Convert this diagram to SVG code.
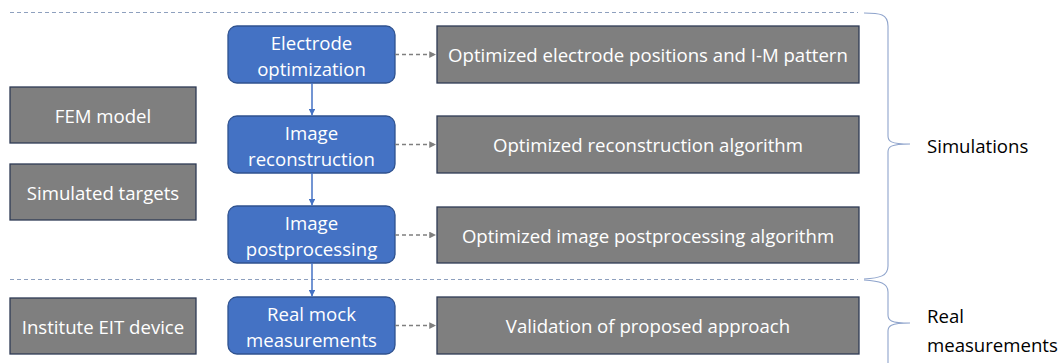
<svg xmlns="http://www.w3.org/2000/svg" width="1061" height="363" viewBox="0 0 1061 363">
<style>
.blue{fill:#4472C4;stroke:#2F528F;stroke-width:1.3}
.gray{fill:#7F7F7F;stroke:#2F3B55;stroke-width:1.3}
.t{font-family:"Open Sans","Liberation Sans",sans-serif;font-size:18.6px;fill:#FFFFFF;text-anchor:middle;dominant-baseline:central}
.lbl{font-family:"Open Sans","Liberation Sans",sans-serif;font-size:18.6px;fill:#000000;dominant-baseline:central}
.sep{stroke:#8EA0BE;stroke-width:1;stroke-dasharray:4 3;fill:none}
.brace{stroke:#8FA4CC;stroke-width:1.1;fill:none}
.flow{stroke:#4472C4;stroke-width:1.5;fill:none;marker-end:url(#ab)}
.dash{stroke:#7F7F7F;stroke-width:1.5;stroke-dasharray:4 3;fill:none;marker-end:url(#ag)}
</style>
<defs>
<marker id="ab" viewBox="0 0 10 10" refX="10" refY="5" markerWidth="4.5" markerHeight="4.5" orient="auto" markerUnits="strokeWidth"><path d="M0,0 L10,5 L0,10 z" fill="#4472C4"/></marker>
<marker id="ag" viewBox="0 0 10 10" refX="10" refY="5" markerWidth="4.5" markerHeight="4.5" orient="auto" markerUnits="strokeWidth"><path d="M0,0 L10,5 L0,10 z" fill="#7F7F7F"/></marker>
</defs>
<g id="separators">
<line class="sep" x1="10" y1="12.5" x2="858" y2="12.5"/>
<line class="sep" x1="10" y1="279.5" x2="858" y2="279.5"/>
</g>
<g id="brace-simulations">
<path class="brace" d="M864,13 C880,13 888,14 888,26 L888,136 C888,141 890,144 910,144 C890,144 888,147 888,152 L888,266 C888,276 880,278 864,279"/>
<text class="lbl" x="927" y="145">Simulations</text>
</g>
<g id="brace-real">
<path class="brace" d="M864,280 C880,281 888,283 888,292 L888,315 C888,320 890,323 910,323 C890,323 888,326 888,331 L888,363"/>
<text class="lbl" x="927" y="315">Real</text>
<text class="lbl" x="927" y="344">measurements</text>
</g>
<g id="fem-model"><rect class="gray" x="10" y="87" width="186" height="56"/><text class="t" x="103" y="115">FEM model</text></g>
<g id="simulated-targets"><rect class="gray" x="10" y="164" width="186" height="56"/><text class="t" x="103" y="192">Simulated targets</text></g>
<g id="institute-eit"><rect class="gray" x="10" y="298" width="186" height="56"/><text class="t" x="103" y="326">Institute EIT device</text></g>
<g id="electrode-opt"><rect class="blue" x="228" y="26" width="167" height="57" rx="9"/><text class="t" x="311.5" y="42">Electrode</text><text class="t" x="311.5" y="68">optimization</text></g>
<g id="image-recon"><rect class="blue" x="228" y="116" width="167" height="57" rx="9"/><text class="t" x="311.5" y="132">Image</text><text class="t" x="311.5" y="158">reconstruction</text></g>
<g id="image-post"><rect class="blue" x="228" y="206" width="167" height="57" rx="9"/><text class="t" x="311.5" y="222">Image</text><text class="t" x="311.5" y="248">postprocessing</text></g>
<g id="real-mock"><rect class="blue" x="228" y="297" width="167" height="57" rx="9"/><text class="t" x="311.5" y="313">Real mock</text><text class="t" x="311.5" y="339">measurements</text></g>
<g id="out-electrode"><rect class="gray" x="437" y="26" width="422" height="57"/><text class="t" x="648" y="54.5">Optimized electrode positions and I-M pattern</text></g>
<g id="out-recon"><rect class="gray" x="437" y="116" width="422" height="57"/><text class="t" x="648" y="144.5">Optimized reconstruction algorithm</text></g>
<g id="out-post"><rect class="gray" x="437" y="207" width="422" height="56"/><text class="t" x="648" y="235">Optimized image postprocessing algorithm</text></g>
<g id="out-valid"><rect class="gray" x="437" y="297" width="422" height="57"/><text class="t" x="648" y="325.5">Validation of proposed approach</text></g>
<g id="connectors">
<line class="flow" x1="312" y1="83" x2="312" y2="115.5"/>
<line class="flow" x1="312" y1="173" x2="312" y2="205.5"/>
<line class="flow" x1="312" y1="263" x2="312" y2="296.5"/>
<line class="dash" x1="395" y1="54.5" x2="436" y2="54.5"/>
<line class="dash" x1="395" y1="144.5" x2="436" y2="144.5"/>
<line class="dash" x1="395" y1="235" x2="436" y2="235"/>
<line class="dash" x1="395" y1="325.5" x2="436" y2="325.5"/>
</g>
</svg>
